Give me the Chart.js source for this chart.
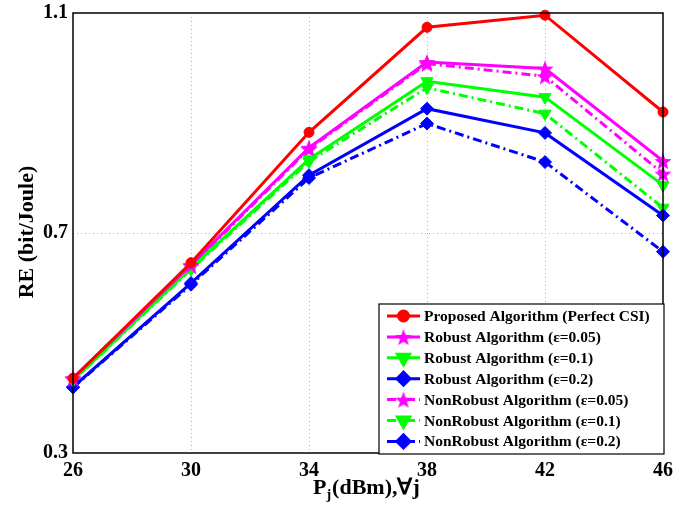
<!DOCTYPE html>
<html>
<head>
<meta charset="utf-8">
<script src="https://cdn.jsdelivr.net/npm/chart.js@4.4.1/dist/chart.umd.min.js"></script>
<style>
  html, body { margin: 0; padding: 0; background: #fff; }
  #wrap { width: 691px; height: 508px; }
</style>
</head>
<body>
<div id="wrap"><canvas id="chart" width="691" height="508"></canvas></div>
<script>
// --- Data ---
const xLabels = ['26', '30', '34', '38', '42', '46'];
const yTickValues = [0.3, 0.7, 1.1];

const proposed     = [0.436, 0.646, 0.883, 1.074, 1.096, 0.920];
const robust005    = [0.436, 0.642, 0.855, 1.011, 0.999, 0.831];
const robust01     = [0.432, 0.636, 0.834, 0.976, 0.947, 0.787];
const robust02     = [0.420, 0.609, 0.805, 0.926, 0.882, 0.732];
const nonRobust005 = [0.435, 0.640, 0.853, 1.008, 0.985, 0.808];
const nonRobust01  = [0.431, 0.634, 0.830, 0.964, 0.917, 0.746];
const nonRobust02  = [0.419, 0.606, 0.800, 0.899, 0.829, 0.666];

const seriesNames = [
    'Proposed Algorithm (Perfect CSI)',
    'Robust Algorithm (\u03B5=0.05)',
    'Robust Algorithm (\u03B5=0.1)',
    'Robust Algorithm (\u03B5=0.2)',
    'NonRobust Algorithm (\u03B5=0.05)',
    'NonRobust Algorithm (\u03B5=0.1)',
    'NonRobust Algorithm (\u03B5=0.2)'
];

const FONT = '"Liberation Serif", "Times New Roman", serif';
const dashDot = [9, 4, 2, 4];

// filled 5-point star used as point style
const makeStar = (color, size) => {
    const c = document.createElement('canvas');
    c.width = size; c.height = size;
    const g = c.getContext('2d');
    const cx = size / 2, cy = size / 2 + 1, ro = size / 2, ri = ro * 0.42;
    g.beginPath();
    for (let i = 0; i < 10; i++) {
        const r = i % 2 === 0 ? ro : ri;
        const a = -Math.PI / 2 + i * Math.PI / 5;
        g.lineTo(cx + r * Math.cos(a), cy + r * Math.sin(a));
    }
    g.closePath();
    g.fillStyle = color;
    g.fill();
    return c;
};
const starImg = makeStar('#ff00ff', 18);

const mk = (label, data, color, pointStyle, radius, dash, rotation) => ({
    label, data,
    borderColor: color,
    backgroundColor: color,
    pointBackgroundColor: color,
    pointBorderColor: color,
    pointStyle, pointRadius: radius, pointHoverRadius: radius,
    pointRotation: rotation || 0,
    pointBorderWidth: 1,
    borderWidth: 3,
    borderDash: dash,
    tension: 0,
    clip: false
});

const datasets = [
    mk(seriesNames[0], proposed, '#ff0000', 'circle', 5, []),
    mk(seriesNames[1], robust005, '#ff00ff', starImg, 8, []),
    mk(seriesNames[2], robust01, '#00ff00', 'triangle', 7, [], 180),
    mk(seriesNames[3], robust02, '#0000ff', 'rectRot', 6.5, []),
    mk(seriesNames[4], nonRobust005, '#ff00ff', starImg, 8, dashDot),
    mk(seriesNames[5], nonRobust01, '#00ff00', 'triangle', 7, dashDot, 180),
    mk(seriesNames[6], nonRobust02, '#0000ff', 'rectRot', 6.5, dashDot)
];

// --- Frame, legend and axis titles ---
const decor = {
    id: 'decor',
    afterDatasetsDraw(chart) {
        const ctx = chart.ctx;
        const a = chart.chartArea;
        ctx.save();
        ctx.strokeStyle = '#000';
        ctx.lineWidth = 1.5;
        ctx.strokeRect(a.left, a.top, a.right - a.left, a.bottom - a.top);

        // legend box
        const lx = 379, ly = 304, lw = 285, lh = 150;
        ctx.fillStyle = '#fff';
        ctx.fillRect(lx, ly, lw, lh);
        ctx.lineWidth = 1.2;
        ctx.strokeRect(lx, ly, lw, lh);

        const rowH = 20.9;
        chart.data.datasets.forEach((ds, i) => {
            const y = 316 + i * rowH;
            ctx.strokeStyle = ds.borderColor;
            ctx.lineWidth = 3;
            ctx.setLineDash(ds.borderDash || []);
            ctx.beginPath();
            ctx.moveTo(387, y);
            ctx.lineTo(420, y);
            ctx.stroke();
            ctx.setLineDash([]);
            Chart.helpers.drawPoint(ctx, {
                pointStyle: ds.pointStyle,
                radius: ds.pointRadius,
                rotation: ds.pointRotation,
                borderWidth: 1
            }, 403.5, y);
            ctx.fillStyle = ds.borderColor;
            ctx.fill();
            ctx.fillStyle = '#000';
            ctx.font = 'bold 15.5px ' + FONT;
            ctx.textAlign = 'left';
            ctx.textBaseline = 'middle';
            ctx.fillText(ds.label, 424, y + 1);
        });
        ctx.restore();
    },
    afterDraw(chart) {
        const ctx = chart.ctx;
        ctx.save();
        ctx.fillStyle = '#000';
        // x title with subscript
        ctx.textBaseline = 'alphabetic';
        ctx.textAlign = 'left';
        ctx.font = 'bold 22px ' + FONT;
        let x = 313;
        const base = 494;
        ctx.fillText('P', x, base);
        x += ctx.measureText('P').width;
        ctx.font = 'bold 14px ' + FONT;
        ctx.fillText('j', x, base + 5);
        x += ctx.measureText('j').width + 1;
        ctx.font = 'bold 22px ' + FONT;
        ctx.fillText('(dBm),\u2200j', x, base);

        // y title
        ctx.translate(27, 232);
        ctx.rotate(-Math.PI / 2);
        ctx.textAlign = 'center';
        ctx.textBaseline = 'middle';
        ctx.font = 'bold 22px ' + FONT;
        ctx.fillText('RE (bit/Joule)', 0, 0);
        ctx.restore();
    }
};

const gridColor = (c) => (c.index === 0 || c.index === c.chart.scales[c.scale.id].ticks.length - 1) ? 'rgba(0,0,0,0)' : '#b4b4b4';

new Chart(document.getElementById('chart'), {
    type: 'line',
    data: { labels: xLabels, datasets },
    options: {
        responsive: false,
        animation: false,
        layout: { padding: { top: 13, right: 28, left: 0, bottom: 0 } },
        plugins: { legend: { display: false }, tooltip: { enabled: false } },
        scales: {
            x: {
                offset: false,
                border: { display: false, dash: [1, 3] },
                grid: { color: gridColor, drawTicks: false, lineWidth: 1 },
                ticks: { color: '#000', padding: 6, maxRotation: 0, font: { family: FONT, size: 20, weight: 'bold' } },
                afterFit: (s) => { s.height = 55; s.paddingLeft = 0; s.paddingRight = 0; }
            },
            y: {
                min: 0.3,
                max: 1.1,
                border: { display: false, dash: [1, 3] },
                grid: { color: gridColor, drawTicks: false, lineWidth: 1 },
                afterBuildTicks: (s) => { s.ticks = yTickValues.map(v => ({ value: v })); },
                ticks: {
                    color: '#000', padding: 5,
                    font: { family: FONT, size: 20, weight: 'bold' },
                    callback: (v) => Number(v).toFixed(1)
                },
                afterFit: (s) => { s.width = 73; s.paddingTop = 0; s.paddingBottom = 0; }
            }
        }
    },
    plugins: [decor]
});
</script>
</body>
</html>
